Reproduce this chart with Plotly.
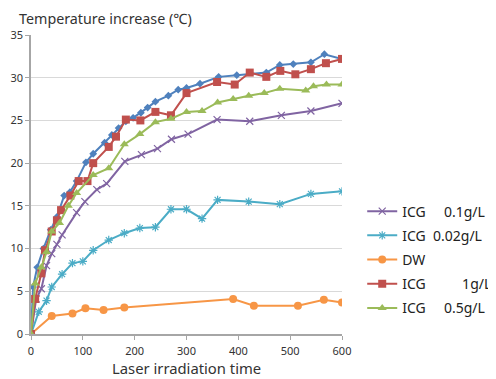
import plotly.graph_objects as go

# Blue (unlabelled) series
t_blue = [0, 4, 12, 24, 38, 50, 64, 75, 88, 106, 120, 142, 156, 169, 183, 197, 212, 225, 240, 265, 284, 300, 326, 362, 397, 454, 480, 506, 540, 566, 600]
v_blue = [0, 5.5, 7.8, 10.0, 12.2, 13.7, 16.2, 16.6, 17.9, 20.1, 21.1, 22.4, 23.3, 24.1, 24.9, 25.3, 25.9, 26.5, 27.2, 27.9, 28.6, 28.8, 29.3, 30.1, 30.3, 30.6, 31.5, 31.6, 31.8, 32.75, 32.2]

# ICG 1 g/L
t_red = [0, 8, 20, 27, 40, 50, 58, 76, 92, 109, 120, 150, 164, 183, 211, 240, 270, 300, 359, 393, 422, 454, 481, 510, 540, 569, 600]
v_red = [0, 4.1, 7.1, 9.8, 12.0, 13.3, 14.5, 16.2, 17.9, 17.9, 20.0, 21.9, 23.1, 25.1, 25.0, 26.0, 25.6, 28.2, 29.5, 29.2, 30.6, 30.1, 30.8, 30.4, 31.0, 31.7, 32.2]

# ICG 0.5 g/L
t_green = [0, 8, 20, 30, 40, 55, 72, 88, 120, 150, 180, 210, 240, 270, 300, 330, 360, 390, 420, 450, 480, 530, 545, 570, 600]
v_green = [0, 5.9, 7.8, 9.6, 12.0, 13.0, 15.0, 16.5, 18.6, 19.4, 22.2, 23.4, 24.8, 25.2, 26.0, 26.1, 27.1, 27.5, 27.9, 28.2, 28.7, 28.5, 29.0, 29.2, 29.2]

# ICG 0.1 g/L
t_purple = [0, 10, 20, 30, 40, 50, 60, 88, 104, 127, 146, 181, 213, 244, 271, 303, 359, 422, 483, 540, 600]
v_purple = [0, 4.1, 5.3, 8.0, 9.4, 10.5, 11.6, 14.2, 15.5, 16.9, 17.6, 20.2, 21.0, 21.7, 22.8, 23.4, 25.1, 24.9, 25.6, 26.1, 27.0]

# ICG 0.02 g/L
t_cyan = [0, 15, 30, 40, 60, 80, 100, 120, 150, 180, 210, 240, 270, 300, 330, 360, 420, 480, 540, 600]
v_cyan = [0, 2.6, 3.9, 5.5, 7.0, 8.3, 8.5, 9.8, 11.0, 11.8, 12.4, 12.5, 14.6, 14.6, 13.5, 15.7, 15.5, 15.2, 16.4, 16.7]

# DW
t_dw = [0, 40, 80, 105, 140, 180, 390, 430, 515, 565, 600]
v_dw = [0, 2.1, 2.4, 3.0, 2.8, 3.1, 4.1, 3.3, 3.3, 4.0, 3.7]

x_ticks = [0, 100, 200, 300, 400, 500, 600]
y_ticks = [0, 5, 10, 15, 20, 25, 30, 35]

FONT = "Noto Sans"

fig = go.Figure()

def add(t, v, name, color, symbol, size, show=True, mline=None):
    marker = dict(symbol=symbol, size=size, color=color)
    if mline is not None:
        marker["line"] = dict(color=color, width=mline)
    fig.add_trace(go.Scatter(x=t, y=v, name=name, mode="lines+markers",
                             line=dict(color=color, width=2), marker=marker,
                             showlegend=show, legendgroup=name))

NB = "\u00a0"
add(t_blue, v_blue, "ICG", "#4F81BD", "diamond", 6, show=False)
add(t_purple, v_purple, "ICG" + NB * 5 + "0.1g/L", "#8064A2", "x-thin", 7, mline=1.2)
add(t_cyan, v_cyan, "ICG" + NB * 2 + "0.02g/L", "#4BACC6", "asterisk", 7, mline=1.2)
add(t_dw, v_dw, "DW", "#F79646", "circle", 8)
add(t_red, v_red, "ICG" + NB * 10 + "1g/L", "#C0504D", "square", 8)
add(t_green, v_green, "ICG" + NB * 5 + "0.5g/L", "#9BBB59", "triangle-up", 8)

fig.update_layout(
    width=496, height=379,
    margin=dict(l=23, r=162, t=27, b=53, autoexpand=False),
    paper_bgcolor="white", plot_bgcolor="white",
    font=dict(family=FONT, size=11, color="#333333"),
    xaxis=dict(range=[0, 600], tickvals=x_ticks, ticks="outside", ticklen=4,
               tickcolor="#A6A6A6", showline=True, linecolor="#A6A6A6", linewidth=1.5,
               showgrid=False, zeroline=False, automargin=False, ticklabelstandoff=2),
    yaxis=dict(range=[0, 35], tickvals=y_ticks, ticks="outside", ticklen=4,
               tickcolor="#A6A6A6", showline=True, linecolor="#A6A6A6", linewidth=1.5,
               showgrid=True, gridcolor="#D9D9D9", gridwidth=1, zeroline=False, automargin=False),
    legend=dict(x=1.065, y=0.463, xanchor="left", yanchor="top",
                font=dict(size=14, color="#222222"), tracegroupgap=3,
                itemwidth=30, bgcolor="rgba(0,0,0,0)"),
    annotations=[
        dict(text="Temperature increase (\u2103)", xref="paper", yref="paper",
             x=-0.045, y=1.0, xanchor="left", yanchor="middle", yshift=17,
             showarrow=False, font=dict(size=14.3, color="#333333")),
        dict(text="Laser irradiation time", xref="paper", yref="paper",
             x=0.5, y=0.0, xanchor="center", yanchor="middle", yshift=-34,
             showarrow=False, font=dict(size=14.8, color="#333333")),
    ],
)

fig.write_html("out.html")
